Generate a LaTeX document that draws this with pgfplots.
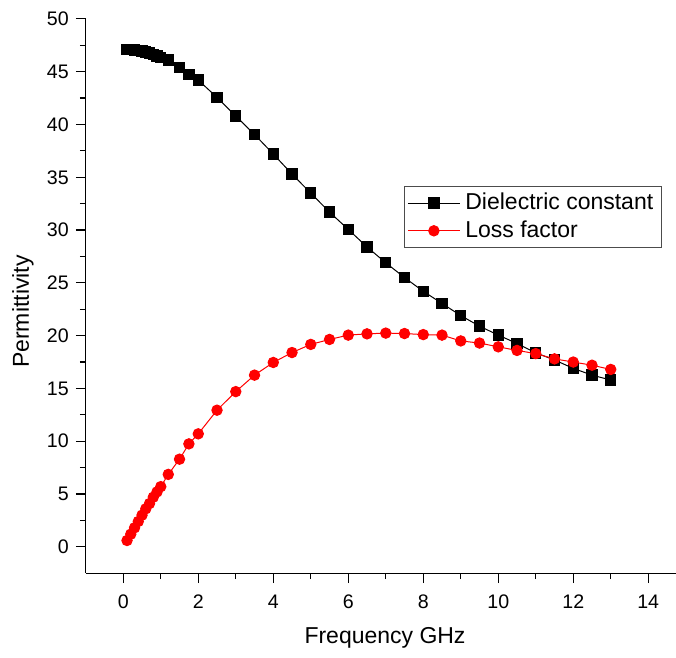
\documentclass[border=0pt]{standalone}
\usepackage{fontspec}
\setmainfont{Liberation Sans}
\usepackage{pgfplots}
\pgfplotsset{compat=1.18}
\begin{document}
\begin{tikzpicture}
\path[use as bounding box] (-42.9pt,-42.4pt) rectangle (295.2pt,286.7pt);
\begin{axis}[
  scale only axis,
  width=295.2pt, height=277.2pt,
  xmin=-1, xmax=14.74, ymin=-2.5, ymax=50,
  axis x line=bottom, axis y line=left,
  axis line style={-, line width=0.6pt},
  xtick={0,2,...,14}, ytick={0,5,...,50},
  minor x tick num=1, minor y tick num=1,
  tick align=outside,
  major tick length=5pt, minor tick length=3pt,
  tick style={black, line width=0.6pt},
  /pgf/number format/assume math mode=true,
  ticklabel style={font=\fontsize{9.8}{11}\selectfont},
  xticklabel style={yshift=-2.5pt},
  xlabel={Frequency GHz}, ylabel={Permittivity},
  label style={font=\fontsize{11.5}{13}\selectfont},
  xlabel style={at={(axis description cs:0.507,-0.117)}, anchor=center},
  ylabel style={at={(axis description cs:-0.1064,0.472)}, anchor=center},
  legend style={at={(rel axis cs:0.976,0.699)}, anchor=north east, draw=black!70, line width=0.6pt,
    font=\fontsize{11.5}{13}\selectfont, inner sep=1.5pt, row sep=0pt,
    nodes={inner xsep=2.5pt}},
  legend cell align=left,
  legend image code/.code={\draw[mark repeat=2,mark phase=2,#1] plot coordinates {(0pt,0pt)(13pt,0pt)(26pt,0pt)};},
]
\addplot[black, line width=0.5pt, mark=square*, mark size=2.6pt, mark options={solid, fill=black}] coordinates {
(0.1,47.1)(0.2,47.1)(0.3,47.05)(0.4,47.0)(0.5,46.95)(0.6,46.85)(0.7,46.75)(0.8,46.65)(0.9,46.5)(1.0,46.35)
(1.2,46.1)(1.5,45.4)(1.75,44.76)(2.0,44.2)(2.5,42.56)(3.0,40.8)(3.5,39.05)(4.0,37.2)(4.5,35.3)(5.0,33.5)
(5.5,31.7)(6.0,30.06)(6.5,28.4)(7.0,26.9)(7.5,25.5)(8.0,24.2)(8.5,23.05)(9.0,21.9)(9.5,20.9)(10.0,20.05)
(10.5,19.26)(11.0,18.37)(11.5,17.7)(12.0,16.9)(12.5,16.26)(13.0,15.8)
};
\addlegendentry{Dielectric constant}
\addplot[red, line width=0.5pt, mark=*, mark size=2.6pt, mark options={solid, fill=red}] coordinates {
(0.1,0.6)(0.2,1.2)(0.3,1.8)(0.4,2.4)(0.5,3.0)(0.6,3.6)(0.7,4.1)(0.8,4.7)(0.9,5.2)(1.0,5.7)
(1.2,6.86)(1.5,8.3)(1.75,9.75)(2.0,10.7)(2.5,12.94)(3.0,14.7)(3.5,16.26)(4.0,17.46)(4.5,18.4)(5.0,19.17)
(5.5,19.64)(6.0,20.05)(6.5,20.17)(7.0,20.24)(7.5,20.2)(8.0,20.1)(8.5,20.05)(9.0,19.5)(9.5,19.3)(10.0,18.94)
(10.5,18.6)(11.0,18.3)(11.5,17.8)(12.0,17.5)(12.5,17.2)(13.0,16.8)
};
\addlegendentry{Loss factor}
\end{axis}
\end{tikzpicture}
\end{document}
